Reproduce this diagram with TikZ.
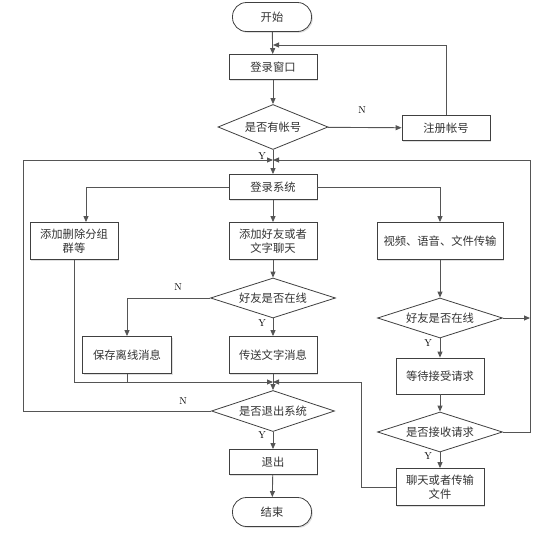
\documentclass[tikz,border=0pt]{standalone}
\usepackage{fontspec}
\newfontfamily\cjk{Noto Sans CJK SC}
\usetikzlibrary{shapes.geometric,arrows.meta,shadows}
\definecolor{ln}{HTML}{555555}
\definecolor{bd}{HTML}{404040}
\definecolor{tx}{HTML}{333333}
\begin{document}
\begin{tikzpicture}[x=1pt,y=-1pt,
 every node/.style={font=\cjk\fontsize{11.3}{13.5}\selectfont, text=tx},
 shd/.style={drop shadow={opacity=0.25, shadow xshift=1.3pt, shadow yshift=-1.3pt}},
 box/.style={draw=bd, fill=white, line width=0.8pt, minimum width=88pt, minimum height=25pt, inner sep=2pt, align=center, shd},
 term/.style={draw=bd, fill=white, line width=0.8pt, rounded corners=14pt, minimum width=79pt, minimum height=29pt, shd},
 dia/.style={diamond, draw=bd, fill=white, line width=0.8pt, aspect=2.5, inner sep=0pt, minimum width=110pt, minimum height=45pt},
 con/.style={draw=ln, line width=0.9pt},
 arr/.style={con, -{Triangle[length=6pt,width=5pt]}},
 lab/.style={font=\rmfamily\fontsize{10}{12}\selectfont, text=black}
]
\useasboundingbox (0,0) rectangle (555,533);
% nodes
\node[term] (start) at (272,17) {开始};
\node[box] (win) at (273,67) {登录窗口};
\node[dia] (acc) at (273,127) {是否有帐号};
\node[box] (reg) at (446,128) {注册帐号};
\node[box] (sys) at (273,187) {登录系统};
\node[box, minimum height=37pt] (grp) at (74,241) {添加删除分组\\群等};
\node[box, minimum height=37pt] (chat) at (273,241) {添加好友或者\\文字聊天};
\node[box, minimum width=126pt, minimum height=37pt] (av) at (440,241) {视频、语音、文件传输};
\node[dia, minimum width=125pt, minimum height=40pt] (on1) at (273,298) {好友是否在线};
\node[box, minimum width=89pt, minimum height=37pt] (save) at (127,355) {保存离线消息};
\node[box, minimum height=37pt] (send) at (273,355) {传送文字消息};
\node[dia, minimum width=125pt, minimum height=40pt] (on2) at (440,318) {好友是否在线};
\node[box, minimum height=36pt] (wait) at (440,376) {等待接受请求};
\node[dia, minimum width=125pt, minimum height=40pt] (acpt) at (440,432) {是否接收请求};
\node[box, minimum height=37pt] (trans) at (440,487) {聊天或者传输\\文件};
\node[dia, minimum width=123pt, minimum height=41pt] (quit) at (273,411) {是否退出系统};
\node[box] (exit) at (273,462) {退出};
\node[term] (end) at (272,512) {结束};
% junctions
\coordinate (j1) at (273,45);
\coordinate (j2) at (273,160);
\coordinate (j3) at (273,382);
\coordinate (ql) at (23,160);
\coordinate (rr) at (530,160);
\coordinate (tl) at (361,382);
% connectors
\draw[arr] (start) -- (win);
\draw[arr] (win) -- (acc);
\draw[arr] (acc) -- (reg);
\draw[arr] (reg.north) |- (j1);
\draw[arr] (acc.south) -- (sys.north);
\draw[arr] (quit.west) -| (ql) -- (j2);
\draw[arr] (acpt.east) -| (rr) -- (j2);
\draw[arr] (on2.east) -- (on2.east -| rr);
\draw[arr] (sys.west) -| ([xshift=12pt]grp.north);
\draw[arr] (sys) -- (chat);
\draw[arr] (sys.east) -| (av.north);
\draw[arr] (chat) -- (on1);
\draw[arr] (on1.west) -| (save.north);
\draw[arr] (on1) -- (send);
\draw[arr] (grp.south) |- (j3);
\draw[con] (save.south) -- (save.south |- j3);
\draw[arr] (trans.west) -| (tl) -- (j3);
\draw[arr] (send) -- (quit);
\draw[arr] (quit) -- (exit);
\draw[arr] (exit) -- (end);
\draw[arr] (av) -- (on2);
\draw[arr] (on2) -- (wait);
\draw[arr] (wait) -- (acpt);
\draw[arr] (acpt) -- (trans);
% labels
\node[lab] at (362,110) {N};
\node[lab] at (262,156) {Y};
\node[lab] at (178,287) {N};
\node[lab] at (262,323) {Y};
\node[lab] at (183,401) {N};
\node[lab] at (262,435) {Y};
\node[lab] at (428,343) {Y};
\node[lab] at (428,456) {Y};
\end{tikzpicture}
\end{document}
